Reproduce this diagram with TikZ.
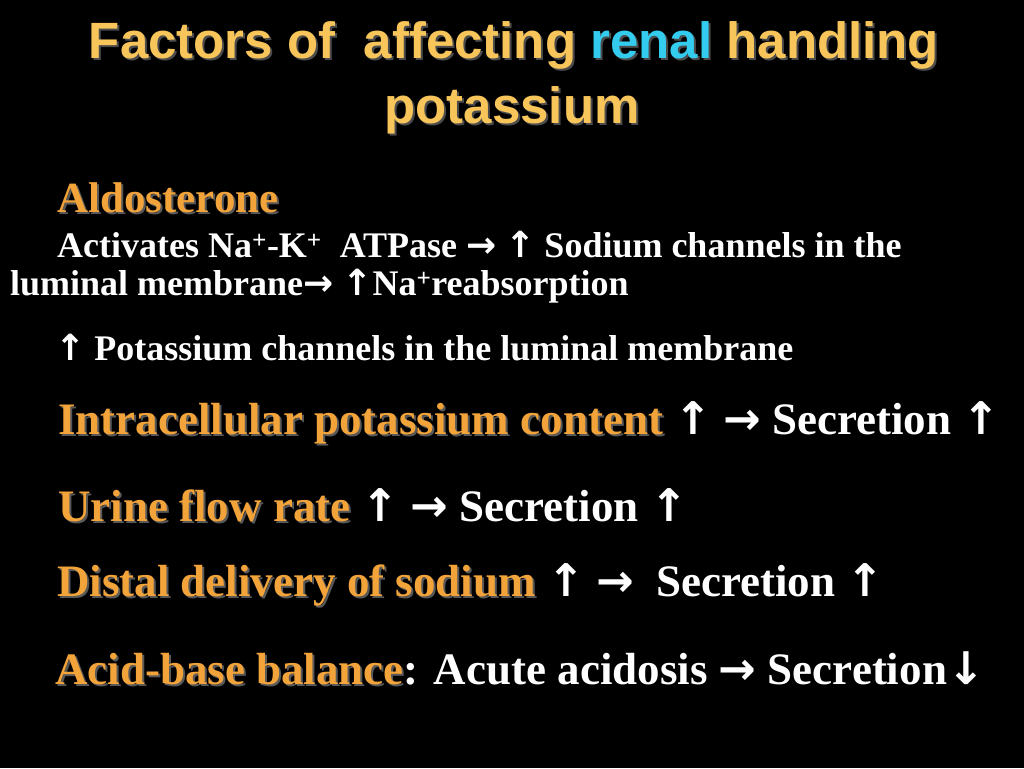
\documentclass[tikz,border=0pt]{standalone}
\usepackage{fontspec}
\setmainfont{Liberation Serif}
\newfontfamily\ttl{Liberation Sans}
\newfontfamily\arr{DejaVu Sans}
\definecolor{hd}{HTML}{F2A33A}
\definecolor{tt}{HTML}{F7C55A}
\definecolor{cy}{HTML}{33CCEE}
\newif\ifshd
\newcommand{\hd}[1]{\ifshd\textcolor{gray!70!black}{#1}\else\textcolor{hd}{#1}\fi}
\newcommand{\rs}[1]{\ifshd\phantom{#1}\else#1\fi}
\newcommand{\up}{{\arr\bfseries ↑}}
\newcommand{\ra}{{\arr\bfseries →}}
\newcommand{\dn}{{\arr\bfseries ↓}}
\begin{document}
\begin{tikzpicture}[x=1pt,y=-1pt,
  ln/.style={anchor=west,inner sep=0pt,text=white,font=\bfseries}]
\useasboundingbox[fill=black] (0,0) rectangle (1024,768);
% title
\foreach \s/\dx in {1/2,0/0}{
 \ifnum\s=1 \global\shdtrue \else \global\shdfalse \fi
 \node[inner sep=0pt,font=\ttl\bfseries\fontsize{51}{54}\selectfont] (t1\s) at (514+\dx,45+\dx)
   {\ifshd\textcolor{gray!60!black}{Factors of\ \ affecting renal handling}\else\textcolor{tt}{Factors of\ \ affecting\ }\textcolor{cy}{renal}\textcolor{tt}{\ handling}\fi};
 \node[inner sep=0pt,font=\ttl\bfseries\fontsize{51}{54}\selectfont] (t2\s) at (512+\dx,110+\dx)
   {\ifshd\textcolor{gray!60!black}{potassium}\else\textcolor{tt}{potassium}\fi};
}
\foreach \s/\dx in {1/2,0/0}{
 \ifnum\s=1 \global\shdtrue \else \global\shdfalse \fi
 \node[ln,font=\bfseries\fontsize{43}{44}\selectfont] (a\s) at (57+\dx,198+\dx) {\hd{Aldosterone}};
 \node[ln,font=\bfseries\fontsize{45}{46}\selectfont] (b\s) at (58+\dx,423+\dx)
   {\hd{Intracellular potassium content} \rs{\up\ \ra\ Secretion \up}};
 \node[ln,font=\bfseries\fontsize{45}{46}\selectfont] (c\s) at (58+\dx,505+\dx)
   {\hd{Urine flow rate} \rs{\up\ \ra\ Secretion \up}};
 \node[ln,font=\bfseries\fontsize{45}{46}\selectfont] (d\s) at (57+\dx,585+\dx)
   {\hd{Distal delivery of sodium} \rs{\up\ \ra\ \ Secretion \up}};
 \node[ln,font=\bfseries\fontsize{45}{46}\selectfont] (e\s) at (55+\dx,668+\dx)
   {\hd{Acid-base balance}\rs{: Acute acidosis \ra\ Secretion\dn}};
}
\node[ln,font=\bfseries\fontsize{36}{38}\selectfont] (f) at (57,245)
  {Activates Na\textsuperscript{+}-K\textsuperscript{+}\ \ ATPase \ra\ \up\ Sodium channels in the};
\node[ln,font=\bfseries\fontsize{36}{38}\selectfont] (g) at (10,286)
  {luminal membrane\ra\ \up Na\textsuperscript{+}reabsorption};
\node[ln,font=\bfseries\fontsize{36}{38}\selectfont] (h) at (55,348)
  {\up\ Potassium channels in the luminal membrane};
\end{tikzpicture}
\end{document}
